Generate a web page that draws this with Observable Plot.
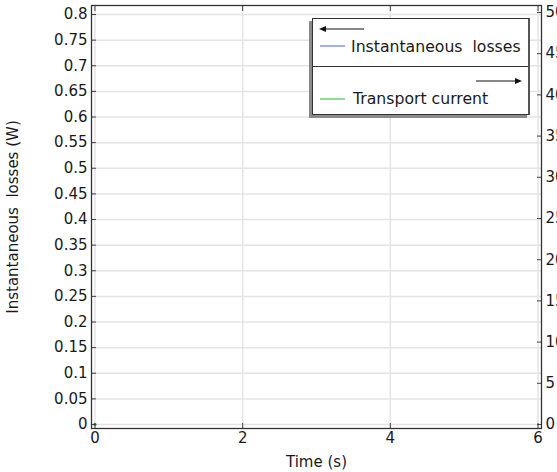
<!DOCTYPE html>
<html><head><meta charset="utf-8">
<script src="https://cdn.jsdelivr.net/npm/d3@7"></script>
<script src="https://cdn.jsdelivr.net/npm/@observablehq/plot@0.6"></script>
<style>
html,body{margin:0;padding:0;overflow:hidden;background:#fff;}
#wrap{position:relative;width:557px;height:472px;font-family:"DejaVu Sans",sans-serif;color:#1a1a1a;}
#legend{position:absolute;left:312px;top:18px;width:215px;height:95px;border:1px solid #333;border-right:2px solid #555;background:#fff;box-shadow:-3px 3px 0 #8a8a8a;font-size:15.7px;}
#legend .sep{position:absolute;left:0;right:0;top:47px;border-top:1px solid #333;}
#legend .lbl{position:absolute;white-space:pre;line-height:18px;}
#legend svg{position:absolute;left:0;top:0;overflow:visible;}
</style></head><body><div id="wrap"></div>
<script>
// data
const time = [0];
const losses = [0];
const current = [0];
const xTicks = [0, 2, 4, 6];
const yLeftTicks = d3.range(0, 17).map(i => +(i * 0.05).toFixed(2));
const yRightTicks = d3.range(0, 11).map(i => i * 5);
const seriesNames = ["Instantaneous  losses", "Transport current"];
const seriesColors = ["#6f86ee", "#55cf55"];
const xLabel = "Time (s)";
const yLabel = "Instantaneous  losses (W)";

const k = 0.804 / 50; // right-axis units -> left-axis units
const rows = time.map((t, i) => ({t, loss: losses[i], cur: current[i] * k}));
const gridStyle = {stroke: "#e4e4e4", strokeOpacity: 1, strokeWidth: 1.5};
const fmt = d => String(+d.toFixed(2));

const plot = Plot.plot({
  width: 557, height: 472,
  marginLeft: 91, marginRight: 16, marginTop: 5, marginBottom: 44,
  style: {fontSize: "15px", fontFamily: "DejaVu Sans, sans-serif", color: "#1a1a1a", whiteSpace: "pre", background: "#fff"},
  x: {domain: [-0.047, 6.047]},
  y: {domain: [-0.0078, 0.8176]},
  marks: [
    Plot.gridX(xTicks, gridStyle),
    Plot.gridY(yLeftTicks, gridStyle),
    Plot.line(rows, {x: "t", y: "loss", stroke: seriesColors[0]}),
    Plot.line(rows, {x: "t", y: "cur", stroke: seriesColors[1]}),
    Plot.dot(rows, {x: "t", y: "cur", r: 1.6, fill: "#1f9a1f"}),
    Plot.axisX(xTicks, {anchor: "bottom", tickSize: -5, tickPadding: 9, tickFormat: fmt, stroke: "#444", label: xLabel, labelAnchor: "center", labelArrow: "none", labelOffset: 38}),
    Plot.axisX(xTicks, {anchor: "top", tickSize: -5, tickFormat: () => "", stroke: "#444", label: null}),
    Plot.axisY(yLeftTicks, {anchor: "left", tickSize: -5, tickPadding: 9, tickFormat: fmt, stroke: "#444", label: yLabel, labelAnchor: "center", labelArrow: "none", labelOffset: 84}),
    Plot.axisY(yRightTicks.map(v => v * k), {anchor: "right", tickSize: -5, tickPadding: 9, tickFormat: (d, i) => String(yRightTicks[i]), stroke: "#444", label: null}),
    Plot.frame({stroke: "#333", strokeWidth: 1.3})
  ]
});
const wrap = document.getElementById("wrap");
wrap.appendChild(plot);

const lg = document.createElement("div");
lg.id = "legend";
lg.innerHTML = `
<svg width="215" height="95">
  <line x1="9" y1="10" x2="51" y2="10" stroke="#111" stroke-width="1.2"/>
  <path d="M6,10 L13,7 L13,13 Z" fill="#111"/>
  <line x1="7" y1="27" x2="32" y2="27" stroke="${seriesColors[0]}" stroke-width="1.3"/>
  <line x1="163" y1="62" x2="205" y2="62" stroke="#111" stroke-width="1.2"/>
  <path d="M209,62 L202,59 L202,65 Z" fill="#111"/>
  <line x1="7" y1="80" x2="32" y2="80" stroke="${seriesColors[1]}" stroke-width="1.3"/>
</svg>
<div class="sep"></div>
<div class="lbl" style="left:38px;top:19px">${seriesNames[0]}</div>
<div class="lbl" style="left:40px;top:71px">${seriesNames[1]}</div>`;
wrap.appendChild(lg);
</script>
</body></html>
